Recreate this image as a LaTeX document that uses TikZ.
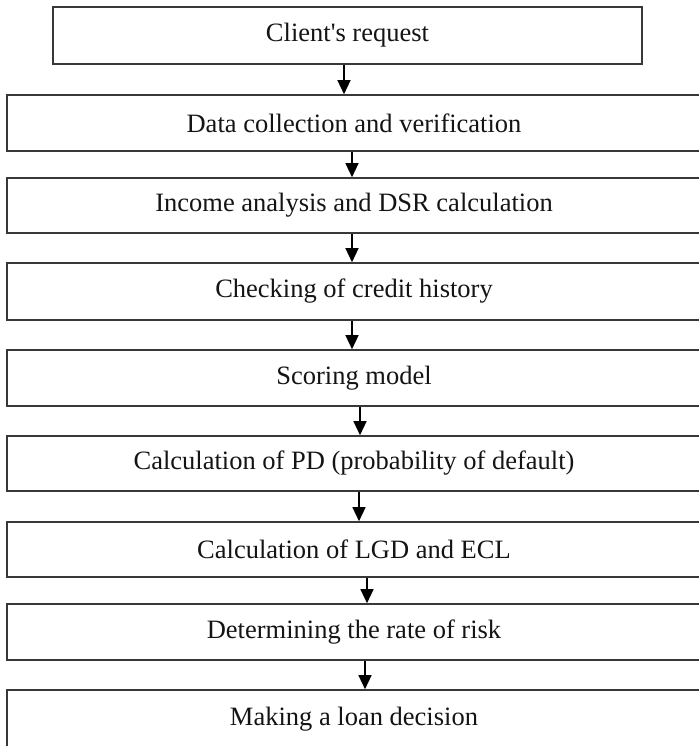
\documentclass[tikz,border=0pt]{standalone}
\usepackage{fontspec}
\setmainfont{Liberation Serif}
\usetikzlibrary{arrows.meta}
\begin{document}
\begin{tikzpicture}[x=1pt,y=-1pt,
  box/.style={draw=black!78, line width=1.6pt, rectangle, inner sep=0pt,
    font=\fontsize{26.5}{31}\selectfont, text=black!92},
  wide/.style={box, minimum width=694pt},
  arr/.style={draw=black, line width=1.3pt, -{Triangle[length=14pt,width=13pt]}}]
\useasboundingbox (0,0) rectangle (698,746);
\fill[white] (0,0) rectangle (698,746);
\node[box, minimum width=589pt, minimum height=57pt] (b1) at (347.5,35.5) {Client\textquotesingle s request};
\node[wide, minimum height=56pt] (b2) at (354,123) {Data collection and verification};
\node[wide, minimum height=55pt] (b3) at (354,205.5) {Income analysis and DSR calculation};
\node[wide, minimum height=57pt] (b4) at (354,291.5) {Checking of credit history};
\node[wide, minimum height=56pt] (b5) at (354,378) {Scoring model};
\node[wide, minimum height=55pt] (b6) at (354,463.5) {Calculation of PD (probability of default)};
\node[wide, minimum height=55pt] (b7) at (354,549.5) {Calculation of LGD and ECL};
\node[wide, minimum height=56pt] (b8) at (354,632) {Determining the rate of risk};
\node[wide, minimum height=58pt] (b9) at (354,719) {Making a loan decision};
\draw[arr] (b1.south -| 344,0) -- (b2.north -| 344,0);
\draw[arr] (b2.south -| 352,0) -- (b3.north -| 352,0);
\draw[arr] (b3.south -| 352,0) -- (b4.north -| 352,0);
\draw[arr] (b4.south -| 352,0) -- (b5.north -| 352,0);
\draw[arr] (b5.south -| 360,0) -- (b6.north -| 360,0);
\draw[arr] (b6.south -| 359,0) -- (b7.north -| 359,0);
\draw[arr] (b7.south -| 367,0) -- (b8.north -| 367,0);
\draw[arr] (b8.south -| 365,0) -- (b9.north -| 365,0);
\end{tikzpicture}
\end{document}
